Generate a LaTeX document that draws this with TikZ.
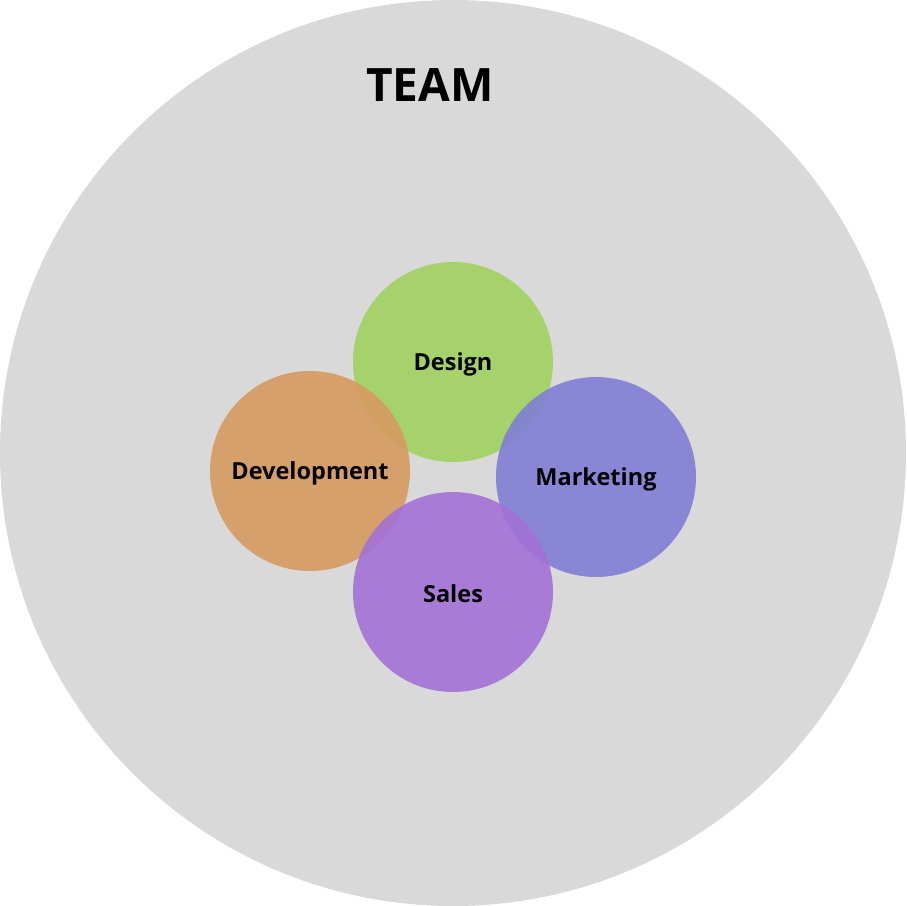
\documentclass[tikz,border=0pt]{standalone}
\usepackage{fontspec}
\setmainfont{Open Sans}
\usetikzlibrary{positioning}
\definecolor{Backdrop}{HTML}{D9D9D9}
\definecolor{Leaf}{HTML}{A0D25E}
\definecolor{Clay}{HTML}{D69A62}
\definecolor{Iris}{HTML}{817ED6}
\definecolor{Orchid}{HTML}{A271D6}
\tikzset{
  teamstyle/.style={circle,fill=Backdrop,minimum size=906pt,inner sep=0pt},
  groupstyle/.style={circle,minimum size=200pt,inner sep=0pt,fill opacity=.9},
  labelstyle/.style={font=\fontsize{23.5}{26}\selectfont\bfseries},
  titlestyle/.style={font=\fontsize{46}{52}\selectfont\bfseries}
}
\begin{document}
\begin{tikzpicture}[x=1pt,y=-1pt]
  \useasboundingbox (0,0) rectangle (906,906);
  \node[teamstyle] (team) at (453,453) {};
  \node[titlestyle] (title) at (430,85) {TEAM};
  % group circles
  \node[groupstyle,fill=Leaf] (design) at (453,362) {};
  \node[groupstyle,fill=Clay] (dev) at (310,471) {};
  \node[groupstyle,fill=Iris] (mkt) at (596,477) {};
  \node[groupstyle,fill=Orchid] (sales) at (453,592) {};
  % labels
  \node[labelstyle,yshift=-2pt] (designlbl) at (design) {Design};
  \node[labelstyle,yshift=-2pt] (devlbl) at (dev) {Development};
  \node[labelstyle,yshift=-2pt] (mktlbl) at (mkt) {Marketing};
  \node[labelstyle,yshift=-2pt] (saleslbl) at (sales) {Sales};
\end{tikzpicture}
\end{document}
